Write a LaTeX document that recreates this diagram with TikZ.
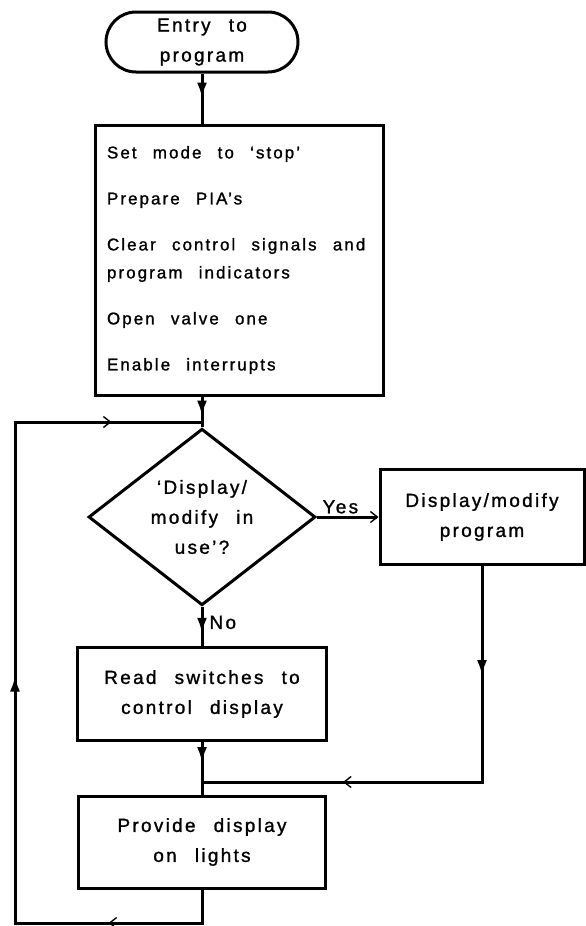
\documentclass[tikz,border=0pt]{standalone}
\usepackage{fontspec}
\setmainfont{Liberation Sans}[LetterSpace=12,WordSpace=2.4,FakeBold=1.2]
\usepackage{tikz}
\usetikzlibrary{arrows,arrows.meta,shapes,decorations.markings}
\newcommand{\boxfont}{\fontsize{19}{30}\selectfont}
\newcommand{\setupfont}{\fontsize{17}{28}\selectfont}
\tikzstyle{terminal} = [rectangle, draw, line width=3pt, rounded corners=30pt,
    minimum width=192pt, minimum height=60pt, align=center, font=\boxfont]
\tikzstyle{decision} = [diamond, draw, line width=3pt, minimum width=227pt,
    minimum height=147pt, inner sep=0pt, align=center, font=\boxfont]
\tikzstyle{block} = [rectangle, draw, line width=3pt, align=center, font=\boxfont]
\tikzstyle{setupbox} = [rectangle, draw, line width=3pt, text width=264pt,
    inner xsep=12pt, minimum width=288pt, minimum height=270pt, align=flush left, font=\setupfont]
\tikzstyle{line} = [draw, line width=3pt]
\tikzstyle{answer} = [font=\boxfont, inner sep=2pt]
\tikzset{
  filltip/.style={postaction={decorate, decoration={markings,
      mark=at position #1 with {\arrow{Latex[length=16pt,width=10pt]}}}}},
  opentip/.style={postaction={decorate, decoration={markings,
      mark=at position #1 with {\arrow[line width=1.4pt]{Straight Barb[length=7pt,width=11pt]}}}}}
}

\begin{document}
\begin{tikzpicture}[x=1pt, y=1pt]
  \useasboundingbox (0,0) rectangle (586,-926);
    % Place nodes
    \node [terminal] (entry) at (202,-42) {Entry to\\program};
    \node [setupbox, below of=entry, node distance=218pt, xshift=37pt] (setup) {Set mode to `stop'\\[18pt]
      Prepare PIA's\\[18pt]
      Clear control signals and\\ program indicators\\[18pt]
      Open valve one\\[18pt]
      Enable interrupts};
    \node [decision, below of=setup, node distance=257pt, xshift=-37pt] (query) {`Display/\\modify in\\use'?};
    \node [block, minimum width=249pt, minimum height=93pt, below of=query, node distance=177pt] (readSwitches) {Read switches to\\control display};
    \node [block, minimum width=247pt, minimum height=92pt, below of=readSwitches, node distance=148pt] (provideDisplay) {Provide display\\on lights};
    \node [block, minimum width=204pt, minimum height=95pt, right of=query, node distance=280pt] (displayModify) {Display/modify\\program};

    % Corners of the return lines
    \coordinate (loopIn) at (202,-422);
    \coordinate (joinDisp) at (202,-782);
    \coordinate (loopBR) at (202,-923);
    \coordinate (loopBL) at (15,-923);
    \coordinate (loopTL) at (15,-422);

    % Draw edges
    \path [line, filltip=25pt] (entry) -- (setup.north -| entry);
    \path [line, filltip=20pt] (setup.south -| query) -- (query);
    \path [line, filltip=27pt] (query) -- node [answer, right, pos=0.4, xshift=4pt] {No} (readSwitches);
    \path [line, -{Straight Barb[length=7pt,width=11pt,line width=1.4pt]}] (query) -- node [answer, above, pos=0.38] {Yes} (displayModify);
    \path [line, filltip=21pt] (readSwitches) -- (provideDisplay);
    \path [line, filltip=110pt, opentip=355pt] (displayModify) -- (displayModify |- joinDisp) -- (joinDisp);
    \path [line, opentip=127pt, filltip=468pt, opentip=818pt] (provideDisplay) -- (loopBR) -- (loopBL) -- (loopTL) -- (loopIn);
\end{tikzpicture}
\end{document}
